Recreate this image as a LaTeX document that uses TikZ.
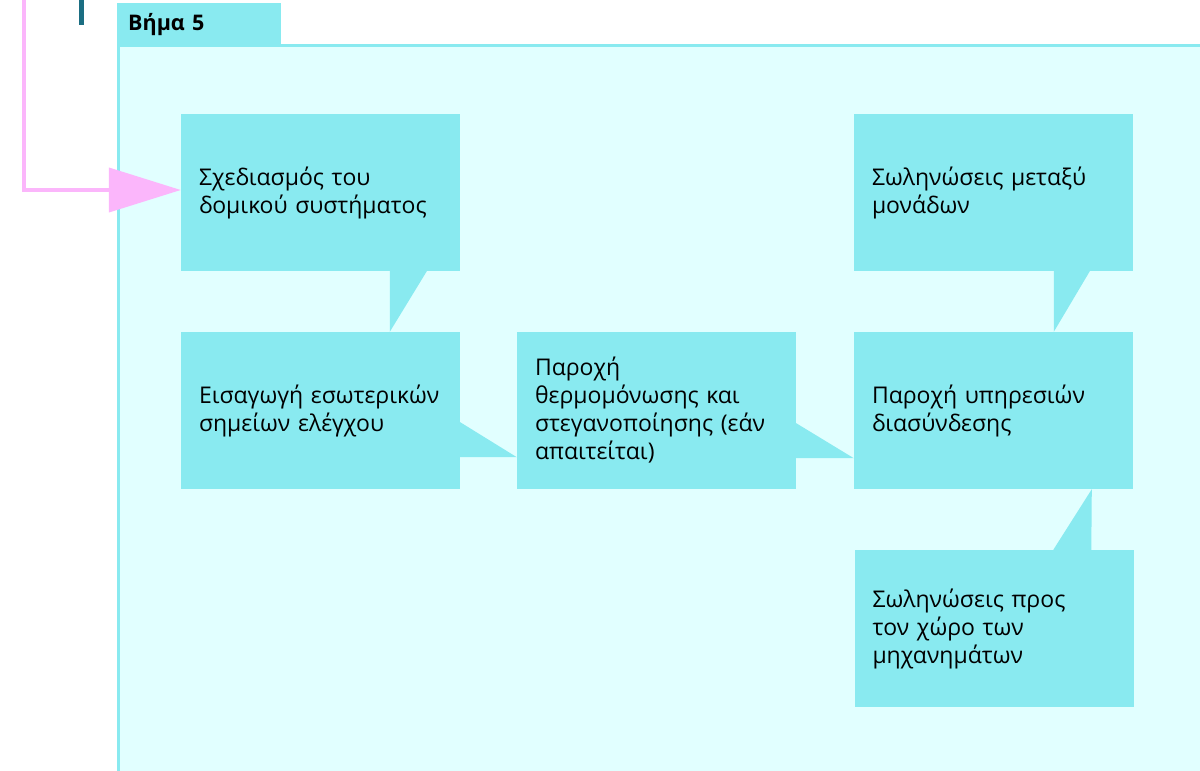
\documentclass[tikz,border=0pt]{standalone}
\usepackage{fontspec}
\setmainfont{Open Sans}
\usetikzlibrary{arrows.meta}
\definecolor{boxcyan}{HTML}{89EAF0}
\definecolor{panelcyan}{HTML}{E1FFFF}
\definecolor{linkpink}{HTML}{FBB6FB}
\definecolor{barteal}{HTML}{1B6E82}
\begin{document}
\begin{tikzpicture}[x=1pt,y=-1pt,
  stepbox/.style={rectangle,fill=boxcyan,minimum width=279pt,minimum height=157pt,
    text width=243pt,inner xsep=18pt,align=left,font=\fontsize{23}{28}\selectfont},
  tail/.style={fill=boxcyan}]
\useasboundingbox (0,0) rectangle (1200,771);
\clip (0,0) rectangle (1200,771);
\fill[panelcyan,draw=boxcyan,line width=3pt] (118.5,45.5) rectangle (1215,790);
\node[fill=boxcyan,anchor=north west,minimum width=164pt,minimum height=42pt,
  text width=142pt,inner xsep=11pt,align=left,font=\fontsize{21.5}{24}\selectfont\bfseries] (tab) at (117,3) {Βήμα 5};
\fill[barteal] (79,0) rectangle (84,25);
\node[stepbox] (design) at (320.5,192.5) {Σχεδιασμός του\\δομικού συστήματος};
\node[stepbox] (checks) at (320.5,410.5) {Εισαγωγή εσωτερικών\\σημείων ελέγχου};
\node[stepbox] (insul) at (656.5,410.5) {Παροχή\\θερμομόνωσης και\\στεγανοποίησης (εάν\\απαιτείται)};
\node[stepbox] (links) at (993.5,410.5) {Παροχή υπηρεσιών\\διασύνδεσης};
\node[stepbox] (pipes) at (993.5,192.5) {Σωληνώσεις μεταξύ\\μονάδων};
\node[stepbox] (plant) at (994,628.5) {Σωληνώσεις προς\\τον χώρο των\\μηχανημάτων};
\fill[tail] ([xshift=209pt]design.south west) -- ([xshift=246pt]design.south west) -- ([xshift=209pt]checks.north west) -- cycle;
\fill[tail] ([yshift=67pt]checks.south east) -- ([yshift=32pt]insul.south west) -- ([yshift=32pt]checks.south east) -- cycle;
\fill[tail] ([yshift=66pt]insul.south east) -- ([yshift=31pt]links.south west) -- ([yshift=31pt]insul.south east) -- cycle;
\fill[tail] ([xshift=200pt]pipes.south west) -- ([xshift=236pt]pipes.south west) -- ([xshift=200pt]links.north west) -- cycle;
\fill[tail] ([xshift=238pt]links.south west) -- ([xshift=237pt]plant.north west) -- ([xshift=199pt]plant.north west) -- cycle;
\coordinate (entry) at (24,-5);
\draw[linkpink,line width=4pt,-{Triangle[length=72pt,width=44pt]}] (entry) |- ([yshift=2.5pt]design.west);
\end{tikzpicture}
\end{document}
